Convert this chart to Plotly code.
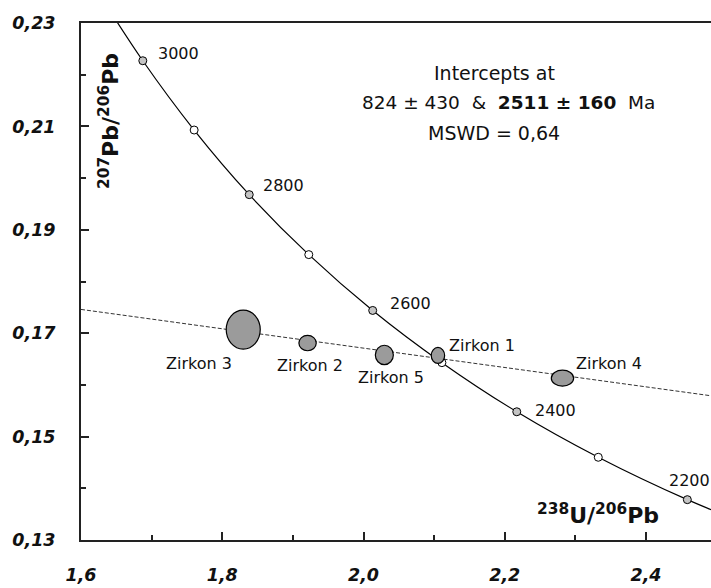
import plotly.graph_objects as go

# ---------------- data ----------------
# Concordia curve (Tera-Wasserburg), ages in Ma with 238U/206Pb and 207Pb/206Pb
conc_age = [3100, 3000, 2900, 2800, 2700, 2600, 2500, 2400, 2300, 2200, 2100]
conc_x = [1.6194, 1.6875, 1.7602, 1.8382, 1.9225, 2.0130, 2.1110, 2.2170, 2.3324, 2.4585, 2.5967]
conc_y = [0.2370, 0.2227, 0.2093, 0.1968, 0.1852, 0.1744, 0.1643, 0.1548, 0.1460, 0.1378, 0.1302]

# age markers shown on the curve
mark_age = [3000, 2900, 2800, 2700, 2600, 2500, 2400, 2300, 2200]
labeled_ages = [3000, 2800, 2600, 2400, 2200]

# discordia line (read at plot edges)
disc_x = [1.60, 2.492]
disc_y = [0.1746, 0.1579]

# zircon analyses: centre and half-axes of error ellipses
zr_name = ["Zirkon 1", "Zirkon 2", "Zirkon 3", "Zirkon 4", "Zirkon 5"]
zr_x = [2.1054, 1.9208, 1.8297, 2.2817, 2.0295]
zr_y = [0.1657, 0.1681, 0.1707, 0.1613, 0.1658]
zr_ex = [0.0095, 0.0123, 0.0241, 0.0158, 0.01275]
zr_ey = [0.00155, 0.00149, 0.00377, 0.00155, 0.00187]

intercept_lower = "824 ± 430"
intercept_upper = "2511 ± 160"
mswd = "0,64"

x_range = [1.6, 2.492]
y_range = [0.13, 0.23]

# ---------------- styles / label offsets (pixels) ----------------
age_label_shift = {3000: (13, 7), 2800: (12, 9), 2600: (15, 7), 2400: (16, 1), 2200: (-20, 19)}
zr_label_shift = {"Zirkon 1": (44, 10), "Zirkon 2": (2, -22), "Zirkon 3": (-44, -34),
                  "Zirkon 4": (47, 15), "Zirkon 5": (7, -23)}

FONT = "DejaVu Sans"
INK = "#111111"

fig = go.Figure()

# discordia
fig.add_trace(go.Scatter(x=disc_x, y=disc_y, mode="lines",
                         line=dict(color="#333333", width=1, dash="4px,2px"),
                         hoverinfo="skip"))

# concordia curve
fig.add_trace(go.Scatter(x=conc_x, y=conc_y, mode="lines",
                         line=dict(color="#000000", width=1.2, shape="spline", smoothing=1.0),
                         hoverinfo="skip"))

# age markers
mx, my, mc = [], [], []
for a in mark_age:
    i = conc_age.index(a)
    mx.append(conc_x[i])
    my.append(conc_y[i])
    mc.append("#c4c4c4" if a in labeled_ages else "#ffffff")
fig.add_trace(go.Scatter(x=mx, y=my, mode="markers",
                         marker=dict(size=8, color=mc, line=dict(color="#000000", width=1)),
                         hoverinfo="skip"))

# zircon error ellipses as shapes in data units
for n, cx, cy, ex, ey in zip(zr_name, zr_x, zr_y, zr_ex, zr_ey):
    fig.add_shape(type="circle", xref="x", yref="y",
                  x0=cx - ex, x1=cx + ex, y0=cy - ey, y1=cy + ey,
                  fillcolor="#9b9b9b", line=dict(color="#000000", width=1.2), layer="above")
    dx, dy = zr_label_shift[n]
    fig.add_annotation(x=cx, y=cy, xref="x", yref="y", text=n, showarrow=False,
                       xshift=dx, yshift=dy, xanchor="center", yanchor="middle",
                       font=dict(family=FONT, size=16, color=INK))

# age labels
for a in labeled_ages:
    i = conc_age.index(a)
    dx, dy = age_label_shift[a]
    fig.add_annotation(x=conc_x[i], y=conc_y[i], xref="x", yref="y", text=str(a),
                       showarrow=False, xshift=dx, yshift=dy, xanchor="left", yanchor="middle",
                       font=dict(family=FONT, size=16, color=INK))

# intercept text block
NB = "\u00a0"
fig.add_annotation(x=0.6569, y=0.9033, xref="paper", yref="paper", text="Intercepts at",
                   showarrow=False, xanchor="center", yanchor="middle",
                   font=dict(family=FONT, size=19, color=INK))
fig.add_annotation(x=0.6783, y=0.8453, xref="paper", yref="paper",
                   text=f"{intercept_lower}{NB}{NB}&{NB}{NB}<b>{intercept_upper}</b>{NB}{NB}Ma",
                   showarrow=False, xanchor="center", yanchor="middle",
                   font=dict(family=FONT, size=18.5, color=INK))
fig.add_annotation(x=0.6561, y=0.7872, xref="paper", yref="paper", text=f"MSWD = {mswd}",
                   showarrow=False, xanchor="center", yanchor="middle",
                   font=dict(family=FONT, size=19, color=INK))

# axis titles placed inside the plot
fig.add_annotation(x=0.0453, y=0.8095, xref="paper", yref="paper",
                   text="<b><sup>207</sup>Pb/<sup>206</sup>Pb</b>", textangle=-90,
                   showarrow=False, xanchor="center", yanchor="middle",
                   font=dict(family=FONT, size=22, color=INK))
fig.add_annotation(x=0.8205, y=0.0503, xref="paper", yref="paper",
                   text="<b><sup>238</sup>U/<sup>206</sup>Pb</b>",
                   showarrow=False, xanchor="center", yanchor="middle",
                   font=dict(family=FONT, size=22, color=INK))

tickfont = dict(family=FONT, size=17.5, color=INK, weight="bold", style="italic")

fig.update_xaxes(range=x_range, tick0=1.6, dtick=0.2, tickformat=".1f",
                 ticks="inside", ticklen=8, tickwidth=1.5, tickcolor="#222222",
                 showline=True, linewidth=2, linecolor="#222222", mirror=True,
                 showgrid=False, zeroline=False, tickfont=tickfont, ticklabelstandoff=18,
                 minor=dict(ticks="inside", dtick=0.1, tick0=1.6, ticklen=5, tickwidth=1.5,
                            tickcolor="#222222", showgrid=False))
fig.update_yaxes(range=y_range, tick0=0.13, dtick=0.02, tickformat=".2f",
                 ticks="inside", ticklen=8, tickwidth=1.5, tickcolor="#222222",
                 showline=True, linewidth=2, linecolor="#222222", mirror=False,
                 showgrid=False, zeroline=False, tickfont=tickfont, ticklabelstandoff=20,
                 minor=dict(ticks="inside", dtick=0.01, tick0=0.13, ticklen=5, tickwidth=1.5,
                            tickcolor="#222222", showgrid=False))

fig.update_layout(width=711, height=588, margin=dict(l=81, r=0, t=23, b=48),
                  plot_bgcolor="white", paper_bgcolor="white", showlegend=False,
                  separators=", ", font=dict(family=FONT, color=INK))

fig.write_html("out.html")
